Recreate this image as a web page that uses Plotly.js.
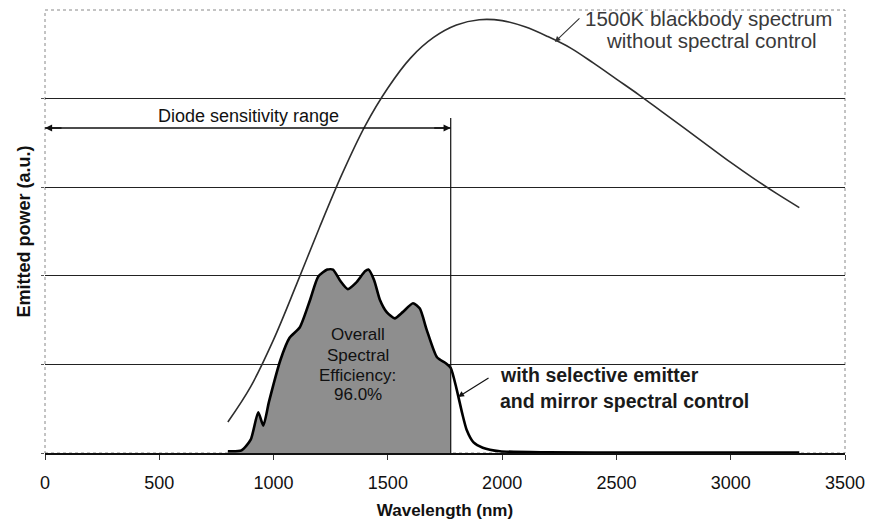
<!DOCTYPE html>
<html>
<head>
<meta charset="utf-8">
<script src="https://cdn.plot.ly/plotly-3.0.1.min.js"></script>
<style>
  html, body { margin: 0; padding: 0; background: #ffffff; }
  #chart { width: 869px; height: 526px; }
</style>
</head>
<body>
<div id="chart"></div>
<script>
// 1500 K blackbody emission, no spectral control (arbitrary units)
const blackbodyWavelength = [800, 900, 1000, 1100, 1200, 1300, 1400, 1500, 1600, 1700, 1800, 1900,
  2000, 2100, 2200, 2300, 2400, 2500, 2600, 2700, 2800, 2900, 3000, 3100, 3200, 3300];
const blackbodyPower = [0.35, 0.75, 1.28, 1.90, 2.54, 3.15, 3.69, 4.12, 4.46, 4.69, 4.83, 4.89,
  4.88, 4.81, 4.70, 4.57, 4.40, 4.22, 4.04, 3.85, 3.66, 3.47, 3.28, 3.10, 2.93, 2.77];

// Emission with selective emitter and mirror spectral control
const emitterWavelength = [800, 860, 900, 933, 955, 980, 1030, 1070, 1115, 1160, 1195, 1235, 1260,
  1290, 1325, 1360, 1400, 1415, 1440, 1465, 1495, 1530, 1565, 1610, 1640, 1670, 1715, 1755, 1775,
  1800, 1825, 1845, 1875, 1915, 1990, 2200, 2600, 3000, 3300];
const emitterPower = [0.02, 0.03, 0.15, 0.46, 0.31, 0.58, 1.05, 1.30, 1.42, 1.73, 1.99, 2.07, 2.07,
  1.95, 1.85, 1.92, 2.05, 2.07, 1.95, 1.73, 1.59, 1.52, 1.59, 1.69, 1.63, 1.39, 1.08, 1.01, 0.96,
  0.73, 0.45, 0.26, 0.12, 0.06, 0.02, 0.008, 0.006, 0.006, 0.006];

// Photodiode sensitivity range (nm)
const diodeRange = [0, 1775];
const efficiencyLabel = ['Overall', 'Spectral', 'Efficiency:', '96.0%'];
const xTickValues = [0, 500, 1000, 1500, 2000, 2500, 3000, 3500];
const yGridValues = [1, 2, 3, 4];

const FONT = 'Arial, "Liberation Sans", sans-serif';

// part of the emitter curve inside the diode range, shaded
const inRangeX = [], inRangeY = [];
emitterWavelength.forEach((w, i) => {
  if (w >= diodeRange[0] && w <= diodeRange[1]) { inRangeX.push(w); inRangeY.push(emitterPower[i]); }
});

const traces = [
  {
    x: inRangeX, y: inRangeY, type: 'scatter', mode: 'lines',
    line: { width: 0, shape: 'spline', smoothing: 0.6 },
    fill: 'tozeroy', fillcolor: '#8e8e8e', hoverinfo: 'skip'
  },
  {
    x: blackbodyWavelength, y: blackbodyPower, type: 'scatter', mode: 'lines',
    line: { color: '#2e2e2e', width: 1.6, shape: 'spline' }
  },
  {
    x: emitterWavelength, y: emitterPower, type: 'scatter', mode: 'lines',
    line: { color: '#000000', width: 2.6, shape: 'spline', smoothing: 0.6 }
  }
];

const ARROW_Y = 3.668;

const annotations = [
  // arrowheads at both ends of the diode range bar
  { x: diodeRange[0], y: ARROW_Y, xref: 'x', yref: 'y', ax: 18, ay: 0, text: '', showarrow: true,
    arrowhead: 2, arrowsize: 1.1, arrowwidth: 1.3, arrowcolor: '#111' },
  { x: diodeRange[1], y: ARROW_Y, xref: 'x', yref: 'y', ax: -18, ay: 0, text: '', showarrow: true,
    arrowhead: 2, arrowsize: 1.1, arrowwidth: 1.3, arrowcolor: '#111' },
  { x: 890, y: 3.80, xref: 'x', yref: 'y', text: 'Diode sensitivity range', showarrow: false,
    font: { family: FONT, size: 18, color: '#111' } },

  // blackbody label + pointer
  { x: 2902, y: 4.905, xref: 'x', yref: 'y', text: '1500K blackbody spectrum', showarrow: false,
    font: { family: FONT, size: 20.5, color: '#3a3a3a' } },
  { x: 2918, y: 4.652, xref: 'x', yref: 'y', text: 'without spectral control', showarrow: false,
    font: { family: FONT, size: 20.5, color: '#3a3a3a' } },
  { x: 2231, y: 4.64, xref: 'x', yref: 'y', ax: 26, ay: -25, text: '', showarrow: true,
    arrowhead: 2, arrowsize: 1, arrowwidth: 1.1, arrowcolor: '#333' },

  // selective emitter label + pointer
  { x: 1982, y: 0.88, xref: 'x', yref: 'y', xanchor: 'left', text: 'with selective emitter', showarrow: false,
    font: { family: FONT, size: 19.5, color: '#1a1a1a', weight: 'bold' } },
  { x: 1982, y: 0.587, xref: 'x', yref: 'y', xanchor: 'left', text: 'and mirror spectral control', showarrow: false,
    font: { family: FONT, size: 19.5, color: '#1a1a1a', weight: 'bold' } },
  { x: 1807, y: 0.632, xref: 'x', yref: 'y', ax: 32, ay: -20, text: '', showarrow: true,
    arrowhead: 2, arrowsize: 1, arrowwidth: 1.2, arrowcolor: '#111' }
];

// efficiency text inside the shaded area
const effY = [1.332, 1.106, 0.880, 0.655];
efficiencyLabel.forEach((t, i) => {
  annotations.push({ x: 1369, y: effY[i], xref: 'x', yref: 'y', text: t, showarrow: false,
    font: { family: FONT, size: 17, color: '#111' } });
});

const layout = {
  width: 869, height: 526,
  margin: { l: 45, r: 24, t: 10, b: 73 },
  paper_bgcolor: '#ffffff', plot_bgcolor: '#ffffff',
  showlegend: false,
  font: { family: FONT, color: '#111' },
  xaxis: {
    range: [0, 3500], tickvals: xTickValues, ticktext: xTickValues.map(String),
    showgrid: false, zeroline: false,
    showline: true, linecolor: '#111', linewidth: 1.5,
    ticks: 'outside', ticklen: 5, tickcolor: '#333', tickwidth: 1,
    ticklabelstandoff: 8,
    tickfont: { family: FONT, size: 18, color: '#111' },
    title: { text: 'Wavelength (nm)', standoff: 12,
      font: { family: FONT, size: 17, color: '#111', weight: 'bold' } }
  },
  yaxis: {
    range: [0, 5], tickvals: [0].concat(yGridValues), ticktext: ['', '', '', '', ''],
    showgrid: true, gridcolor: '#222', gridwidth: 1,
    zeroline: false, showline: false,
    ticks: 'outside', ticklen: 3, tickcolor: '#555',
    title: { text: 'Emitted power (a.u.)', standoff: 3,
      font: { family: FONT, size: 18, color: '#111', weight: 'bold' } }
  },
  shapes: [
    // dotted plot frame
    { type: 'rect', xref: 'paper', yref: 'paper', x0: 0, x1: 1, y0: 0, y1: 1,
      line: { color: '#888', width: 1, dash: 'dot' }, layer: 'below' },
    // diode range bar
    { type: 'line', xref: 'x', yref: 'y', x0: diodeRange[0], x1: diodeRange[1], y0: ARROW_Y, y1: ARROW_Y,
      line: { color: '#111', width: 1.3 } },
    // upper limit of the diode range
    { type: 'line', xref: 'x', yref: 'y', x0: diodeRange[1], x1: diodeRange[1], y0: 0, y1: 3.78,
      line: { color: '#111', width: 1.2 } }
  ],
  annotations: annotations
};

Plotly.newPlot('chart', traces, layout, { displayModeBar: false, staticPlot: true });
</script>
</body>
</html>
